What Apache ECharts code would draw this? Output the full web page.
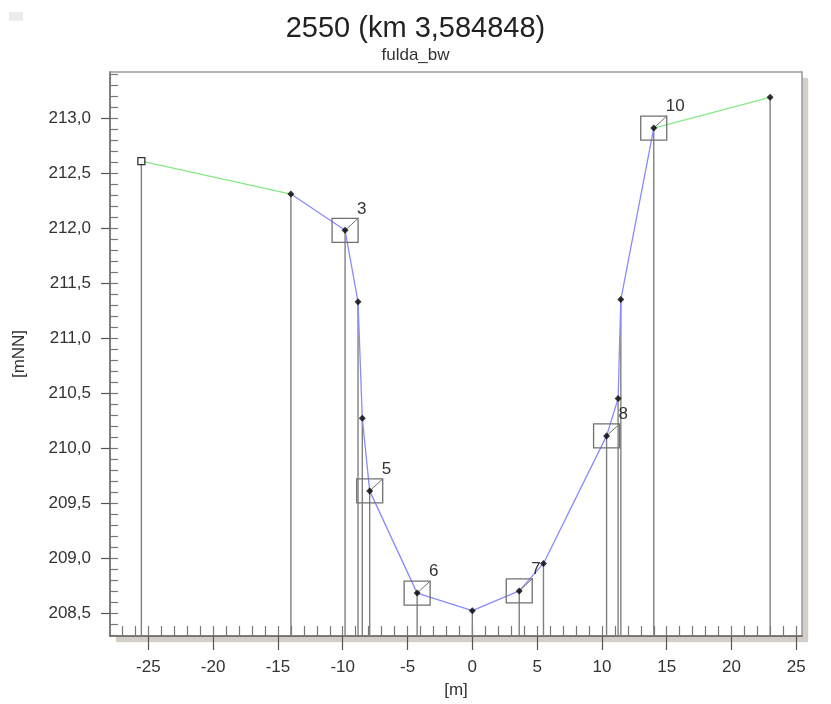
<!DOCTYPE html>
<html><head><meta charset="utf-8">
<script src="https://cdn.jsdelivr.net/npm/echarts@6/dist/echarts.min.js"></script>
<style>html,body{margin:0;padding:0;background:#fff}#c{width:831px;height:704px}</style>
</head><body><div id="c"></div>
<script>
// Profile points (station [m], elevation [mNN])
const stations = [-25.54, -14.0, -9.82, -8.82, -8.49, -7.92, -4.26, 0.0, 3.62, 5.49, 10.36, 11.25, 11.46, 14.0, 22.98];
const heights  = [212.61, 212.31, 211.98, 211.33, 210.27, 209.61, 208.68, 208.52, 208.70, 208.95, 210.11, 210.45, 211.35, 212.91, 213.19];
// Marked (boxed) points: index into arrays and their label
const markedIndex  = [2, 5, 6, 8, 10, 13];
const markedLabels = ['3', '5', '6', '7', '8', '10'];
// Line segments (index ranges)
const leftForeland  = [0, 1];
const channel       = [1, 13];
const rightForeland = [13, 14];
// Tick labels
const xMajorTicks = [-25, -20, -15, -10, -5, 0, 5, 10, 15, 20, 25];
const yMajorTicks = [208.5, 209.0, 209.5, 210.0, 210.5, 211.0, 211.5, 212.0, 212.5, 213.0];
const xMinorTicks = []; for (let v = -27; v <= 25; v++) xMinorTicks.push(v);
const yMinorTicks = []; for (let i = 2083; i <= 2134; i++) yMinorTicks.push(i / 10);
const X_MIN = -27.96, X_MAX = 25.44, Y_MIN = 208.29, Y_MAX = 213.42;

const FONT = 'Liberation Sans, Arial, sans-serif';
const pts = stations.map((s, i) => [s, heights[i]]);
const seg = r => pts.slice(r[0], r[1] + 1);

const chart = echarts.init(document.getElementById('c'), null, {renderer: 'canvas'});
const commaFmt = v => Number(v).toFixed(1).replace('.', ',');

chart.setOption({
  animation: false,
  backgroundColor: '#fff',
  title: {
    text: '2550 (km 3,584848)', subtext: 'fulda_bw', left: 'center', top: 9, itemGap: 4,
    textStyle: {fontFamily: FONT, fontSize: 29, fontWeight: 'normal', color: '#222'},
    subtextStyle: {fontFamily: FONT, fontSize: 17, color: '#333'}
  },
  graphic: [{type: 'rect', left: 9, top: 12, shape: {width: 14, height: 9}, style: {fill: '#ececec'}}],
  grid: {
    left: 110, top: 72, right: 29, bottom: 62, show: true, backgroundColor: '#fff',
    borderWidth: 0,
    shadowColor: '#d3cfc8', shadowOffsetX: 6, shadowOffsetY: 6, shadowBlur: 1
  },
  xAxis: [
    {
      type: 'value', min: X_MIN, max: X_MAX, position: 'bottom',
      axisLine: {show: true, onZero: false, lineStyle: {color: '#555', width: 1.5}},
      axisTick: {show: true, inside: false, length: 14, customValues: xMajorTicks, lineStyle: {color: '#555', width: 1.2}},
      axisLabel: {customValues: xMajorTicks, margin: 23, fontSize: 17, color: '#333', fontFamily: FONT},
      splitLine: {show: false},
      name: '[m]', nameLocation: 'middle', nameGap: 46,
      nameTextStyle: {fontFamily: FONT, fontSize: 17, color: '#333'}
    },
    {
      type: 'value', min: X_MIN, max: X_MAX, position: 'bottom',
      axisLine: {show: false, onZero: false},
      axisTick: {show: true, inside: true, length: 10, customValues: xMinorTicks, lineStyle: {color: '#777', width: 1.2}},
      axisLabel: {show: false}, splitLine: {show: false}
    },
    {
      type: 'value', min: X_MIN, max: X_MAX, position: 'top',
      axisLine: {show: true, onZero: false, lineStyle: {color: '#9a9a9a', width: 1.5}},
      axisTick: {show: false}, axisLabel: {show: false}, splitLine: {show: false}
    }
  ],
  yAxis: [
    {
      type: 'value', min: Y_MIN, max: Y_MAX, position: 'left',
      axisLine: {show: true, onZero: false, lineStyle: {color: '#555', width: 1.5}},
      axisTick: {show: true, inside: false, length: 9, customValues: yMajorTicks, lineStyle: {color: '#555', width: 1.2}},
      axisLabel: {customValues: yMajorTicks, margin: 19, fontSize: 17, color: '#333', fontFamily: FONT, formatter: commaFmt},
      splitLine: {show: false},
      name: '[mNN]', nameLocation: 'middle', nameGap: 82, nameRotate: 90,
      nameTextStyle: {fontFamily: FONT, fontSize: 17, color: '#333'}
    },
    {
      type: 'value', min: Y_MIN, max: Y_MAX, position: 'left',
      axisLine: {show: false, onZero: false},
      axisTick: {show: true, inside: true, length: 8, customValues: yMinorTicks, lineStyle: {color: '#777', width: 1.2}},
      axisLabel: {show: false}, splitLine: {show: false}
    },
    {
      type: 'value', min: Y_MIN, max: Y_MAX, position: 'right',
      axisLine: {show: true, onZero: false, lineStyle: {color: '#9a9a9a', width: 1.5}},
      axisTick: {show: false}, axisLabel: {show: false}, splitLine: {show: false}
    }
  ],
  series: [
    {
      type: 'custom', name: 'drop', xAxisIndex: 0, yAxisIndex: 0, z: 1, silent: true,
      data: pts,
      renderItem: (params, api) => {
        const p = api.coord([api.value(0), api.value(1)]);
        const b = api.coord([api.value(0), Y_MIN]);
        return {type: 'line', shape: {x1: p[0], y1: p[1], x2: b[0], y2: b[1]},
                style: {stroke: '#808080', lineWidth: 1.4}};
      }
    },
    {type: 'line', data: seg(leftForeland), symbol: 'none', z: 3, lineStyle: {color: '#86e886', width: 1.3}},
    {type: 'line', data: seg(channel), symbol: 'none', z: 3, lineStyle: {color: '#8a8aff', width: 1.3}},
    {type: 'line', data: seg(rightForeland), symbol: 'none', z: 3, lineStyle: {color: '#86e886', width: 1.3}},
    {
      type: 'custom', name: 'boxes', z: 4, silent: true,
      data: markedIndex.map((idx, k) => [stations[idx], heights[idx], k]),
      renderItem: (params, api) => {
        const p = api.coord([api.value(0), api.value(1)]);
        const w = 26, h = 24;
        const lbl = markedLabels[api.value(2)];
        return {type: 'group', children: [
          {type: 'rect', shape: {x: p[0] - w / 2, y: p[1] - h / 2, width: w, height: h},
           style: {fill: 'none', stroke: '#707070', lineWidth: 1.3}},
          {type: 'line', shape: {x1: p[0], y1: p[1], x2: p[0] + w / 2, y2: p[1] - h / 2},
           style: {stroke: '#707070', lineWidth: 1}},
          {type: 'text', x: p[0] + 12, y: p[1] - 13,
           style: {text: lbl, fontFamily: FONT, fontSize: 17, fill: '#333', textAlign: 'left', textVerticalAlign: 'bottom'}}
        ]};
      }
    },
    {
      type: 'scatter', z: 5, symbol: 'diamond', symbolSize: 7,
      itemStyle: {color: '#000'},
      data: pts.slice(1)
    },
    {
      type: 'scatter', z: 5, symbol: 'rect', symbolSize: 7,
      itemStyle: {color: '#fff', borderColor: '#000', borderWidth: 1.3},
      data: pts.slice(0, 1)
    }
  ]
});
</script></body></html>
